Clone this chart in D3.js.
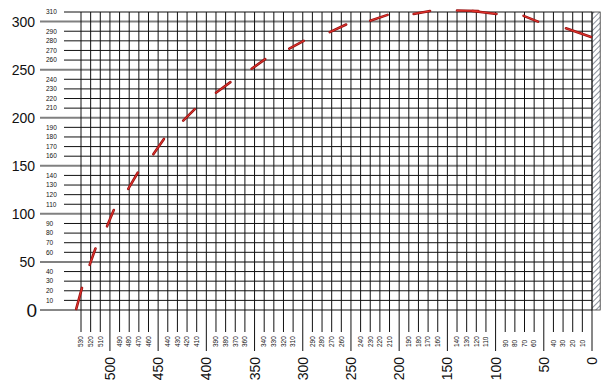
<!DOCTYPE html>
<html>
<head>
  <title></title>
  <style>
    body { margin: 0; background: #fff; }
    text { font-family: "Liberation Sans", Arial, sans-serif; fill: #111; }
  </style>
</head>
<body>
  <svg width="616" height="390"></svg>

  <script src="https://d3js.org/d3.v7.min.js"></script>
  <script>

  // tick values
  var yMajor = [0, 50, 100, 150, 200, 250, 300];
  var yMinor = [10, 20, 30, 40, 60, 70, 80, 90, 110, 120, 130, 140, 160, 170, 180, 190,
                210, 220, 230, 240, 260, 270, 280, 290, 310];
  var xMajor = [500, 450, 400, 350, 300, 250, 200, 150, 100, 50, 0];
  var xMinor = [530, 520, 510, 490, 480, 470, 460, 440, 430, 420, 410, 390, 380, 370, 360,
                340, 330, 320, 310, 290, 280, 270, 260, 240, 230, 220, 210, 190, 180, 170, 160,
                140, 130, 120, 110, 90, 80, 70, 60, 40, 30, 20, 10];

  // red marks: start x, start y, end x, end y
  var segX1 = [535, 521, 503, 481, 455, 424, 390, 353, 314, 272, 230, 185, 140, 124, 71, 27];
  var segY1 = [1, 47, 87, 126, 162, 197, 226, 251, 272, 289, 301, 308, 311.5, 311, 306, 293];
  var segX2 = [529, 515, 496, 471, 444, 412, 375, 339, 299, 255, 212, 168, 118, 99, 56, 1];
  var segY2 = [23, 64, 104, 143, 178, 209, 237, 261, 280, 297, 307, 311, 311, 308, 300, 284];

  var svg = d3.select("svg");

  var x = d3.scaleLinear().domain([530, 0]).range([81, 592]),
      y = d3.scaleLinear().domain([0, 310]).range([310, 12]);

  // hatched strip right of zero
  var defs = svg.append("defs");
  var pat = defs.append("pattern")
      .attr("id", "hatch")
      .attr("patternUnits", "userSpaceOnUse")
      .attr("width", 4).attr("height", 4)
      .attr("patternTransform", "rotate(45)");
  pat.append("line")
      .attr("x1", 0).attr("y1", 0).attr("x2", 0).attr("y2", 4)
      .attr("stroke", "#3c4658").attr("stroke-width", 1.2);

  svg.append("rect")
      .attr("x", x(0)).attr("y", y(310))
      .attr("width", x(-8.5) - x(0)).attr("height", y(0) - y(310))
      .attr("fill", "url(#hatch)")
      .attr("stroke", "#333").attr("stroke-width", 0.8);

  // horizontal lines
  svg.selectAll(".hmin").data(yMinor).enter().append("line")
      .attr("x1", 64).attr("x2", x(0))
      .attr("y1", y).attr("y2", y)
      .attr("stroke", "#111").attr("stroke-width", 1);

  svg.selectAll(".hmaj").data(yMajor).enter().append("line")
      .attr("x1", 40).attr("x2", x(0))
      .attr("y1", y).attr("y2", y)
      .attr("stroke", function(d) { return d == 0 ? "#111" : "#808080"; })
      .attr("stroke-width", function(d) { return d == 0 ? 1 : 2; });

  // vertical lines
  svg.selectAll(".vmin").data(xMinor).enter().append("line")
      .attr("x1", x).attr("x2", x)
      .attr("y1", y(310)).attr("y2", 332)
      .attr("stroke", "#111").attr("stroke-width", 1);

  svg.selectAll(".vmaj").data(xMajor).enter().append("line")
      .attr("x1", x).attr("x2", x)
      .attr("y1", y(310)).attr("y2", 351)
      .attr("stroke", "#111").attr("stroke-width", 1);

  // y labels
  svg.selectAll(".ylab").data(yMajor).enter().append("text")
      .attr("x", function(d) { return d == 0 ? 37 : 35; })
      .attr("y", y)
      .attr("dy", "0.36em")
      .attr("text-anchor", "end")
      .style("font-size", function(d) { return d == 0 ? "19px" : "14px"; })
      .text(String);

  svg.selectAll(".ylabm").data(yMinor).enter().append("text")
      .attr("x", 46)
      .attr("y", y)
      .attr("dy", "0.35em")
      .style("font-size", "6.5px")
      .text(String);

  // x labels (rotated)
  svg.selectAll(".xlab").data(xMajor).enter().append("text")
      .attr("transform", function(d) { return "translate(" + x(d) + ",357) rotate(-90)"; })
      .attr("dy", "0.36em")
      .attr("text-anchor", "end")
      .style("font-size", "14px")
      .text(String);

  svg.selectAll(".xlabm").data(xMinor).enter().append("text")
      .attr("transform", function(d) { return "translate(" + x(d) + ",347) rotate(-90)"; })
      .attr("dy", "0.35em")
      .style("font-size", "6.5px")
      .text(String);

  // red marks
  var segs = d3.range(segX1.length);
  svg.selectAll(".segOut").data(segs).enter().append("line")
      .attr("x1", function(i) { return x(segX1[i]); })
      .attr("y1", function(i) { return y(segY1[i]); })
      .attr("x2", function(i) { return x(segX2[i]); })
      .attr("y2", function(i) { return y(segY2[i]); })
      .attr("stroke", "#9a1414").attr("stroke-width", 2.6)
      .attr("stroke-linecap", "round");

  svg.selectAll(".segIn").data(segs).enter().append("line")
      .attr("x1", function(i) { return x(segX1[i]); })
      .attr("y1", function(i) { return y(segY1[i]); })
      .attr("x2", function(i) { return x(segX2[i]); })
      .attr("y2", function(i) { return y(segY2[i]); })
      .attr("stroke", "#e8342c").attr("stroke-width", 1)
      .attr("stroke-linecap", "round");

  </script>
</body>
</html>
